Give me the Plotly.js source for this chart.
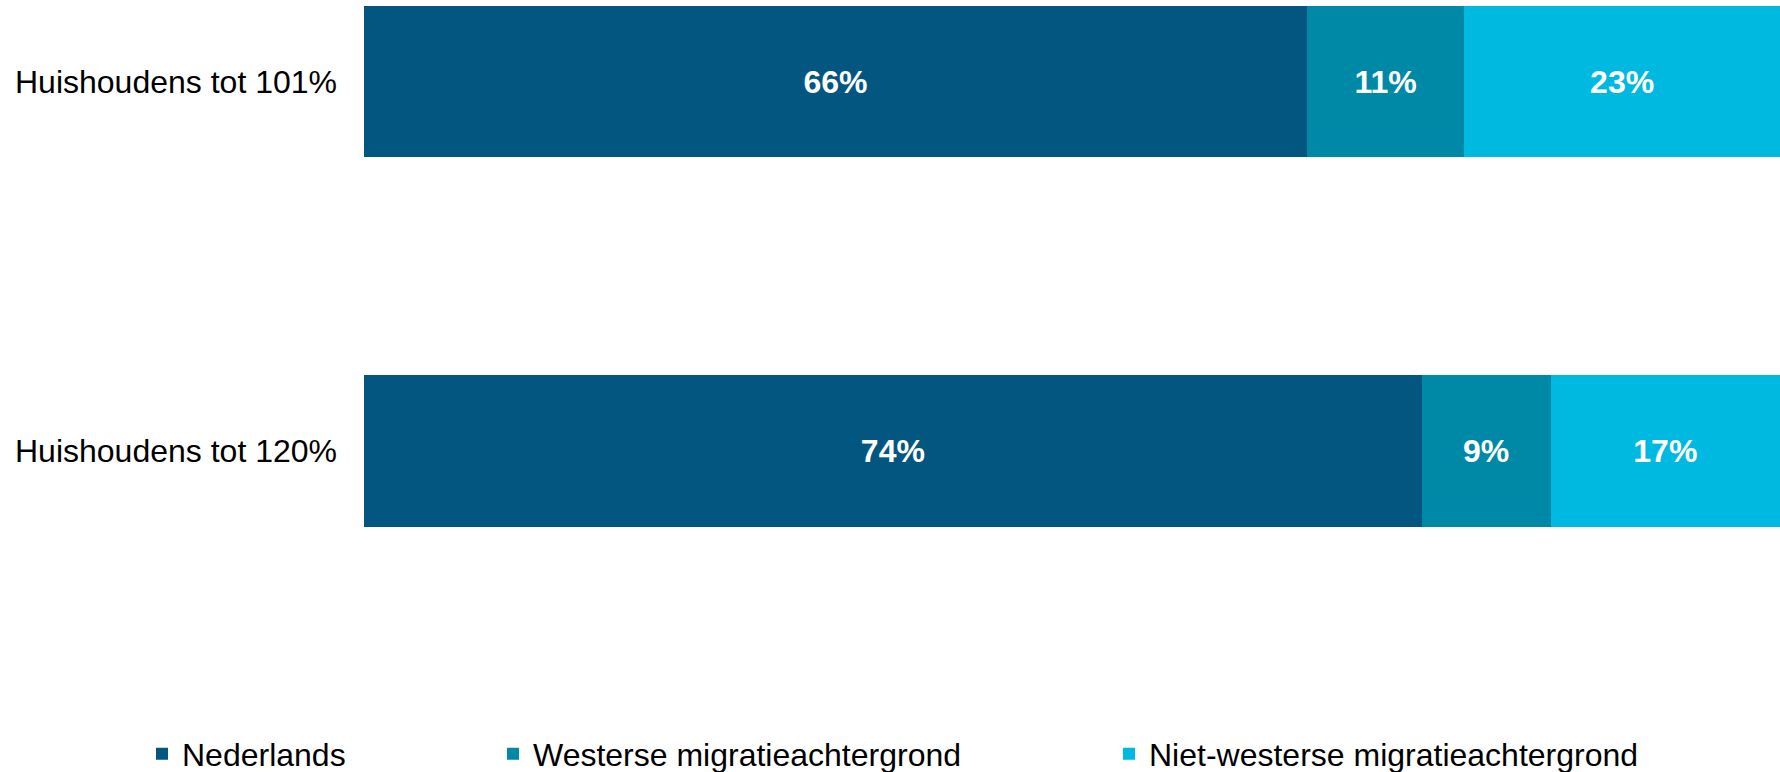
<!DOCTYPE html>
<html>
<head>
<meta charset="utf-8">
<script src="https://cdn.plot.ly/plotly-3.0.1.min.js"></script>
<style>
html,body{margin:0;padding:0;background:#fff;}
#chart{width:1780px;height:772px;}
</style>
</head>
<body>
<div id="chart"></div>
<script>
const categories = ["Huishoudens tot 101%", "Huishoudens tot 120%"];
const seriesNames = ["Nederlands", "Westerse migratieachtergrond", "Niet-westerse migratieachtergrond"];
const nederlands = [66.6, 74.7];
const westers = [11.1, 9.1];
const nietWesters = [22.3, 16.2];
const nederlandsLabels = ["66%", "74%"];
const westersLabels = ["11%", "9%"];
const nietWestersLabels = ["23%", "17%"];
const colors = ["#03567f", "#0089a7", "#00b9e0"];

const values = [nederlands, westers, nietWesters];
const labels = [nederlandsLabels, westersLabels, nietWestersLabels];
const legendIds = ["legend", "legend2", "legend3"];

const traces = seriesNames.map((name, i) => ({
  type: "bar",
  orientation: "h",
  name: name,
  y: categories,
  x: values[i],
  text: labels[i],
  textposition: "inside",
  insidetextanchor: "middle",
  textangle: 0,
  texttemplate: "%{text}",
  textfont: {family: "Liberation Sans, Arial, sans-serif", size: 32, color: "#ffffff", weight: "bold"},
  marker: {color: colors[i], line: {width: 0}},
  legend: legendIds[i],
  hoverinfo: "skip"
}));

const legendFont = {family: "Liberation Sans, Arial, sans-serif", size: 32, color: "#000000"};
function legendAt(px) {
  return {
    x: (px - 364) / 1416,
    xanchor: "left",
    y: (700 - 754) / 700,
    yanchor: "middle",
    orientation: "h",
    font: legendFont,
    bgcolor: "rgba(0,0,0,0)",
    borderwidth: 0
  };
}

const layout = {
  width: 1780,
  height: 772,
  margin: {l: 364, r: 0, t: 0, b: 72, pad: 0, autoexpand: false},
  paper_bgcolor: "#ffffff",
  plot_bgcolor: "#ffffff",
  barmode: "stack",
  bargap: 0.589,
  showlegend: true,
  xaxis: {
    range: [0, 100],
    showgrid: false,
    zeroline: false,
    showticklabels: false,
    showline: false,
    fixedrange: true
  },
  yaxis: {
    type: "category",
    range: [1.674, -0.2206],
    showgrid: false,
    zeroline: false,
    showline: false,
    ticks: "",
    ticklabelstandoff: 26,
    tickfont: {family: "Liberation Sans, Arial, sans-serif", size: 32, color: "#000000"},
    fixedrange: true
  },
  legend: legendAt(142),
  legend2: legendAt(493),
  legend3: legendAt(1109)
};

Plotly.newPlot("chart", traces, layout, {staticPlot: true, displayModeBar: false});
</script>
</body>
</html>
